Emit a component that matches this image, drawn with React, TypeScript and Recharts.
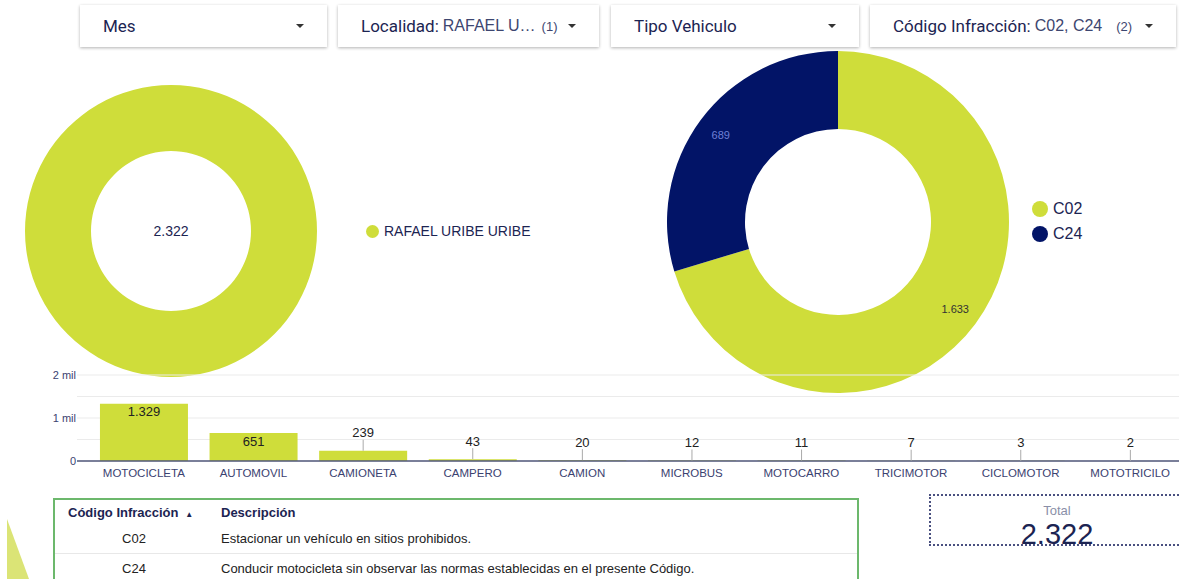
import React from "react";
import {
  PieChart, Pie, Cell, Legend, BarChart, Bar, XAxis, YAxis, CartesianGrid, LabelList,
} from "recharts";

// donut 1: total by locality
const localidades = ["RAFAEL URIBE URIBE"];
const localidadTotals = [2322];

// donut 2: by infraction code
const codigos = ["C02", "C24"];
const codigoTotals = [1633, 689];

// bar chart: by vehicle type
const vehiculos = [
  "MOTOCICLETA", "AUTOMOVIL", "CAMIONETA", "CAMPERO", "CAMION",
  "MICROBUS", "MOTOCARRO", "TRICIMOTOR", "CICLOMOTOR", "MOTOTRICILO",
];
const vehiculoTotals = [1329, 651, 239, 43, 20, 12, 11, 7, 3, 2];
const yTicks = [0, 500, 1000, 1500, 2000];

const infracciones = [
  { code: "C02", desc: "Estacionar un vehículo en sitios prohibidos." },
  { code: "C24", desc: "Conducir motocicleta sin observar las normas establecidas en el presente Código." },
];

const LIME = "#cfdd3a";
const NAVY = "#021467";
const TEXT = "#1c2452";
const CHART_FONT = "'Liberation Sans', Arial, sans-serif";

const fmt = (v: number) => v.toString().replace(/\B(?=(\d{3})+(?!\d))/g, ".");

const localidadData = localidades.map((name, i) => ({ name, value: localidadTotals[i] }));
const codigoData = codigos.map((name, i) => ({ name, value: codigoTotals[i] }));
const vehiculoData = vehiculos.map((name, i) => ({ name, value: vehiculoTotals[i] }));
const codigoColors = [LIME, NAVY];

const BarValueLabel = (props: any) => {
  const { x, y, width, height, value } = props;
  const cx = Number(x) + Number(width) / 2;
  const top = Number(y);
  if (Number(height) >= 20) {
    return (
      <text x={cx} y={top + 8} textAnchor="middle" dominantBaseline="central" fontSize={13}
        fill="#222" fontFamily={CHART_FONT}>
        {fmt(value)}
      </text>
    );
  }
  return (
    <g>
      <line x1={cx} x2={cx} y1={top} y2={top - 11} stroke="#aaa" strokeWidth={1} />
      <text x={cx} y={top - 18} textAnchor="middle" dominantBaseline="central" fontSize={13}
        fill="#222" fontFamily={CHART_FONT}>
        {fmt(value)}
      </text>
    </g>
  );
};

const RAD = Math.PI / 180;
const SliceLabel = (props: any) => {
  const { cx, cy, midAngle, value, index } = props;
  const r = 146;
  const x = cx + r * Math.cos(-midAngle * RAD);
  const y = cy + r * Math.sin(-midAngle * RAD);
  return (
    <text x={x} y={y} textAnchor="middle" dominantBaseline="central" fontSize={11}
      fill={index === 1 ? "#6f80d6" : "#333"} fontFamily={CHART_FONT}>
      {fmt(value)}
    </text>
  );
};

const DotLegend = ({ payload, dot, size, gap }: any) => (
  <div style={{ fontFamily: CHART_FONT }}>
    {(payload || []).map((p: any) => (
      <div key={p.value} style={{ display: "flex", alignItems: "center", height: gap }}>
        <span style={{ width: dot, height: dot, borderRadius: "50%", background: p.color, marginRight: 5, display: "inline-block" }} />
        <span style={{ fontSize: size, color: TEXT }}>{p.value}</span>
      </div>
    ))}
  </div>
);

const Filter = ({ left, width, label, value, count }: any) => (
  <div style={{
    position: "absolute", left, top: 5, width, height: 42, background: "#fff",
    boxShadow: "0 1px 3px rgba(0,0,0,0.3)", display: "flex", alignItems: "center",
    fontFamily: "Roboto, Arial, sans-serif", color: TEXT, boxSizing: "border-box", paddingLeft: 23,
  }}>
    <span style={{ fontSize: 17 }}>{label}</span>
    {value && <span style={{ fontSize: 16, color: "#3d4670", marginLeft: 4, fontFamily: CHART_FONT }}>{value}</span>}
    {count && <span style={{ fontSize: 13, color: "#3d4670", marginLeft: count === "(2)" ? 14 : 6, fontFamily: CHART_FONT }}>{count}</span>}
    <span style={{
      position: "absolute", right: 23, top: 19, width: 0, height: 0,
      borderLeft: "4px solid transparent", borderRight: "4px solid transparent", borderTop: "4px solid #333",
    }} />
  </div>
);

const noMargin = { top: 0, right: 0, bottom: 0, left: 0 };

export default function App() {
  return (
    <div style={{ position: "fixed", left: 0, top: 0, width: 1179, height: 579, overflow: "hidden", background: "#fff" }}>
      <svg style={{ position: "absolute", left: 0, top: 0 }} width={60} height={579}>
        <polygon points="7,519 7,579 29,579" fill="#dbe476" />
      </svg>

      <Filter left={80} width={247} label="Mes" />
      <Filter left={338} width={261} label="Localidad:" value="RAFAEL U…" count="(1)" />
      <Filter left={611} width={248} label="Tipo Vehiculo" />
      <Filter left={870} width={306} label="Código Infracción:" value="C02, C24" count="(2)" />

      <div style={{ position: "absolute", left: 0, top: 0 }}>
        <PieChart width={600} height={380} margin={noMargin}>
          <Pie data={localidadData} dataKey="value" nameKey="name" cx={171} cy={231}
            innerRadius={80} outerRadius={146} startAngle={90} endAngle={-270}
            stroke="none" isAnimationActive={false}>
            {localidadData.map((d) => <Cell key={d.name} fill={LIME} />)}
          </Pie>
          <text x={171} y={231} textAnchor="middle" dominantBaseline="central" fontSize={14}
            fill={TEXT} fontFamily={CHART_FONT}>{fmt(localidadTotals[0])}</text>
          <Legend layout="vertical" wrapperStyle={{ left: 366, top: 222, width: 220 }}
            content={(p: any) => <DotLegend payload={p.payload} dot={13} size={14} gap={18} />} />
        </PieChart>
      </div>

      <div style={{ position: "absolute", left: 600, top: 0 }}>
        <PieChart width={579} height={400} margin={noMargin}>
          <Pie data={codigoData} dataKey="value" nameKey="name" cx={238} cy={222}
            innerRadius={93} outerRadius={171} startAngle={90} endAngle={-270}
            stroke="none" label={SliceLabel} labelLine={false} isAnimationActive={false}>
            {codigoData.map((d, i) => <Cell key={d.name} fill={codigoColors[i]} />)}
          </Pie>
          <Legend layout="vertical" wrapperStyle={{ left: 432, top: 196, width: 100 }}
            content={(p: any) => <DotLegend payload={p.payload} dot={16} size={16} gap={25} />} />
        </PieChart>
      </div>

      <div style={{ position: "absolute", left: 0, top: 360 }}>
        <BarChart width={1190} height={130} data={vehiculoData}
          margin={{ top: 15, right: 5, left: 0, bottom: 4 }} barCategoryGap="10%">
          <CartesianGrid vertical={false} stroke="#ebebeb" />
          <XAxis dataKey="name" interval={0} height={25} padding={{ left: 12, right: 0 }}
            tickLine={false} axisLine={{ stroke: "#50577a", strokeWidth: 1.5 }}
            tick={{ fontSize: 11.5, fill: "#3b4270", fontFamily: CHART_FONT }} />
          <YAxis width={77} domain={[0, 2000]} ticks={yTicks} axisLine={false} tickLine={false}
            tickSize={0} tickMargin={1}
            tick={{ fontSize: 11, fill: "#3b4270", fontFamily: CHART_FONT }}
            tickFormatter={(v: number) => (v === 0 ? "0" : v % 1000 === 0 ? `${v / 1000} mil` : "")} />
          <Bar dataKey="value" fill={LIME} isAnimationActive={false}>
            <LabelList dataKey="value" content={BarValueLabel} />
          </Bar>
        </BarChart>
      </div>

      <div style={{
        position: "absolute", left: 53, top: 498, width: 806, height: 100, border: "2px solid #6cb86c",
        boxSizing: "border-box", fontFamily: CHART_FONT, fontSize: 13, color: "#222",
      }}>
        <div style={{ display: "flex", height: 24, alignItems: "center", fontWeight: "bold", color: TEXT }}>
          <span style={{ width: 153, paddingLeft: 13 }}>Código Infracción <span style={{ fontSize: 8, marginLeft: 3 }}>▲</span></span>
          <span>Descripción</span>
        </div>
        {infracciones.map((r, i) => (
          <div key={r.code} style={{
            display: "flex", height: 29, alignItems: "center", boxSizing: "border-box",
            borderTop: i > 0 ? "1px solid #e8e8e8" : "none",
          }}>
            <span style={{ width: 158, textAlign: "center", marginRight: 8 }}>{r.code}</span>
            <span>{r.desc}</span>
          </div>
        ))}
      </div>

      <div style={{
        position: "absolute", left: 929, top: 494, width: 270, height: 52, border: "2px dotted #4a5080",
        boxSizing: "border-box", fontFamily: CHART_FONT,
      }}>
        <div style={{ position: "absolute", left: 0, width: 252, top: 7, textAlign: "center", fontSize: 13, color: "#8a8fa8" }}>Total</div>
        <div style={{ position: "absolute", left: 0, width: 252, top: 22, textAlign: "center", fontSize: 29, color: TEXT }}>{fmt(localidadTotals[0])}</div>
      </div>
    </div>
  );
}
